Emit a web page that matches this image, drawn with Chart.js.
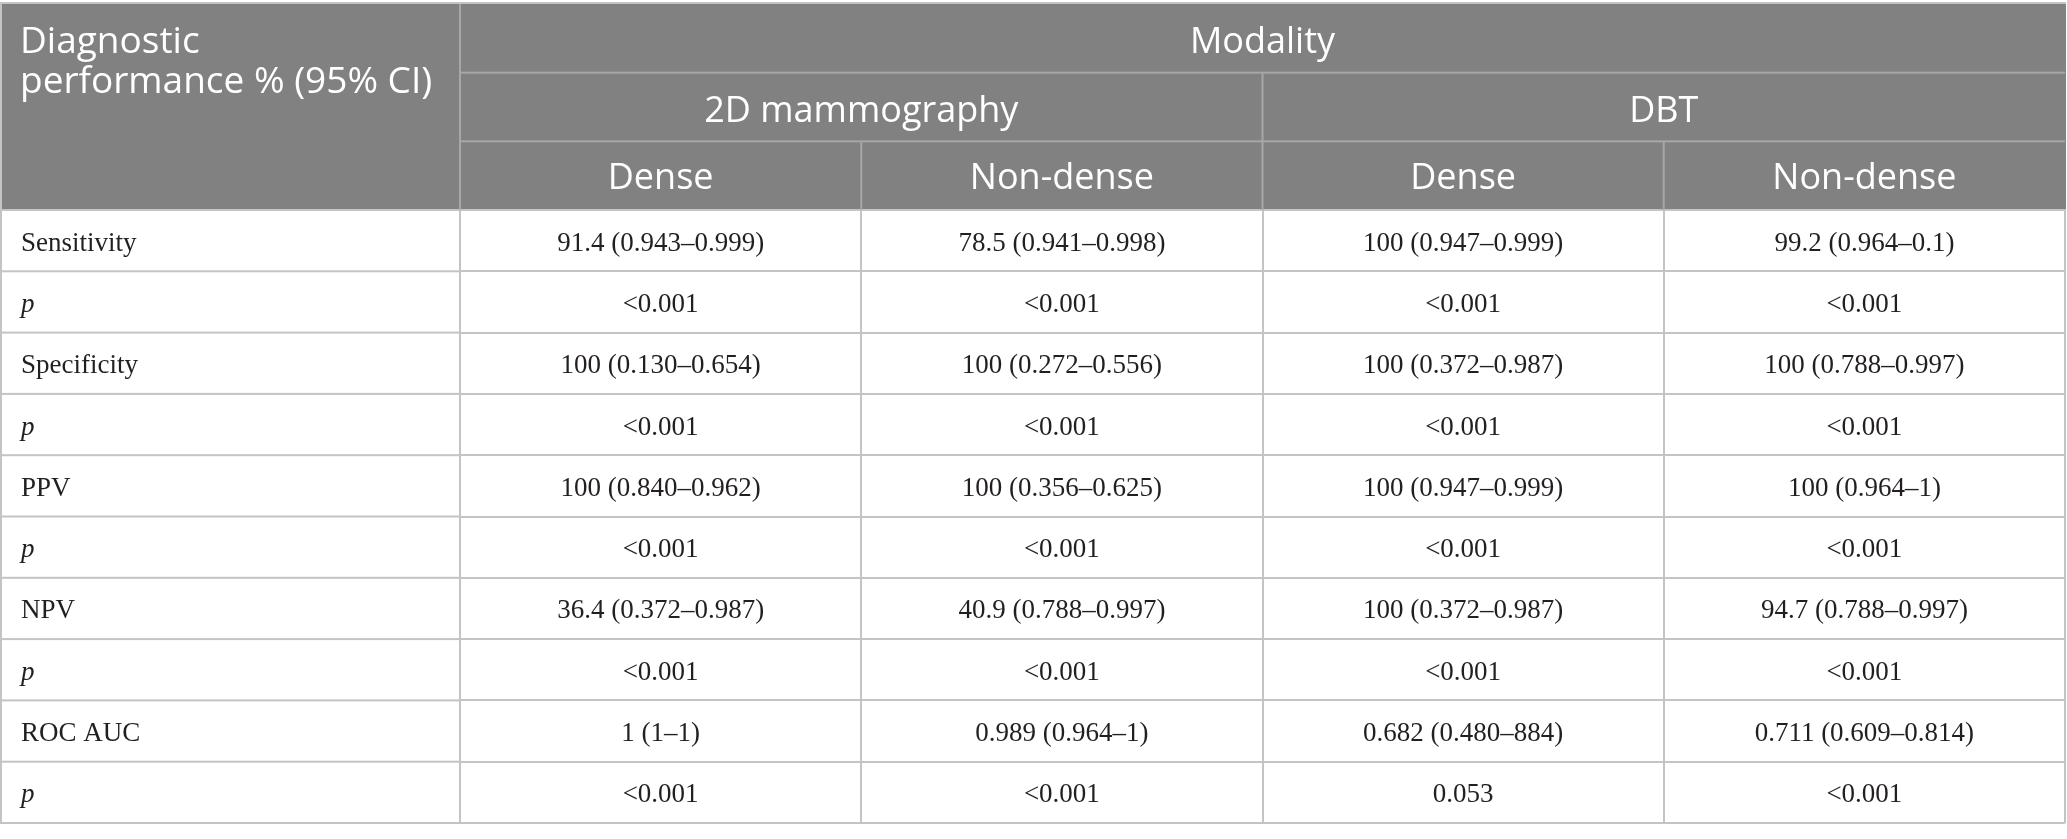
<!DOCTYPE html>
<html>
<head>
<meta charset="utf-8">
<script src="https://cdn.jsdelivr.net/npm/chart.js@4"></script>
<style>
  html, body { margin: 0; padding: 0; background: #fff; }
  #wrap { width: 2067px; height: 839px; }
</style>
</head>
<body>
<div id="wrap"><canvas id="myChart"></canvas></div>
<script>
// table content
var stubTitle = ['Diagnostic', 'performance % (95% CI)'];
var topHeader = 'Modality';
var groups = ['2D mammography', 'DBT'];
var columns = ['Dense', 'Non-dense', 'Dense', 'Non-dense'];
var rows = ['Sensitivity', 'p', 'Specificity', 'p', 'PPV', 'p', 'NPV', 'p', 'ROC AUC', 'p'];

var dense2D = ['91.4 (0.943–0.999)', '<0.001', '100 (0.130–0.654)', '<0.001', '100 (0.840–0.962)', '<0.001', '36.4 (0.372–0.987)', '<0.001', '1 (1–1)', '<0.001'];
var nonDense2D = ['78.5 (0.941–0.998)', '<0.001', '100 (0.272–0.556)', '<0.001', '100 (0.356–0.625)', '<0.001', '40.9 (0.788–0.997)', '<0.001', '0.989 (0.964–1)', '<0.001'];
var denseDBT = ['100 (0.947–0.999)', '<0.001', '100 (0.372–0.987)', '<0.001', '100 (0.947–0.999)', '<0.001', '100 (0.372–0.987)', '<0.001', '0.682 (0.480–884)', '0.053'];
var nonDenseDBT = ['99.2 (0.964–0.1)', '<0.001', '100 (0.788–0.997)', '<0.001', '100 (0.964–1)', '<0.001', '94.7 (0.788–0.997)', '<0.001', '0.711 (0.609–0.814)', '<0.001'];

var cells = [dense2D, nonDense2D, denseDBT, nonDenseDBT];

var headFill = '#808180';
var headLine = '#a6a7a6';
var gridLine = '#c4c4c4';
var bodyText = '#231f20';
var sansFont = '"Open Sans", "Noto Sans", sans-serif';
var serifFont = '"Liberation Serif", "DejaVu Serif", serif';

var tablePlugin = {
    id: 'tablePlugin',
    beforeDraw: function (chart) {
        var c = chart.ctx, x = chart.scales.x, area = chart.chartArea;
        c.save();
        c.fillStyle = headFill;
        c.fillRect(0, x.top, area.right + 1, x.bottom - x.top);
        // top rule
        c.fillStyle = gridLine;
        c.fillRect(0, x.top - 2, area.right + 1, 2);
        c.restore();
    },
    afterDraw: function (chart) {
        var c = chart.ctx, x = chart.scales.x, y = chart.scales.y, area = chart.chartArea;
        var colW = x.getPixelForValue(1) - x.getPixelForValue(0);
        var rowH = y.getPixelForValue(1) - y.getPixelForValue(0);
        var h = (x.bottom - x.top) / 3;
        c.save();

        // lines inside the header
        c.fillStyle = headLine;
        c.fillRect(area.left, x.top + h - 1, area.right - area.left, 2);
        c.fillRect(area.left, x.top + 2 * h - 1, area.right - area.left, 2);
        c.fillRect(area.left - 1, x.top, 2, x.bottom - x.top);
        for (var g = 0; g < groups.length; g++) {
            var gl = x.getPixelForValue(g * 2) - colW / 2;
            if (g > 0) c.fillRect(gl - 1, x.top + h, 2, x.bottom - x.top - h);
            var mid = x.getPixelForValue(g * 2) + colW / 2;
            c.fillRect(mid - 1, x.top + 2 * h, 2, h);
        }

        // first column rules
        c.fillStyle = gridLine;
        for (var r = 0; r <= rows.length; r++) {
            var yy = y.getPixelForValue(0) - rowH / 2 + r * rowH;
            c.fillRect(0, yy - 1, area.left, 2);
        }
        c.fillRect(0, x.top - 2, 2, area.bottom - x.top + 3);

        // header texts
        c.fillStyle = '#ffffff';
        c.textBaseline = 'alphabetic';
        c.textAlign = 'left';
        c.font = '37px ' + sansFont;
        c.fillText(stubTitle[0], 20, x.top + 49);
        c.fillText(stubTitle[1], 20, x.top + 89);
        c.font = '36px ' + sansFont;
        c.textAlign = 'center';
        c.fillText(topHeader, (area.left + area.right) / 2, x.top + h / 2 + 14.5);
        for (var k = 0; k < groups.length; k++) {
            var cx = (x.getPixelForValue(k * 2) + x.getPixelForValue(k * 2 + 1)) / 2;
            c.fillText(groups[k], cx, x.top + 1.5 * h + 14.5);
        }

        // row labels (first column)
        c.fillStyle = bodyText;
        c.textAlign = 'left';
        for (var n = 0; n < rows.length; n++) {
            c.font = (rows[n] === 'p' ? 'italic ' : '') + '27px ' + serifFont;
            c.fillText(rows[n], y.left, y.getPixelForValue(n) + 10);
        }

        // body cells
        c.textAlign = 'center';
        c.font = '27px ' + serifFont;
        for (var i = 0; i < cells.length; i++) {
            for (var j = 0; j < cells[i].length; j++) {
                c.fillText(cells[i][j], x.getPixelForValue(i), y.getPixelForValue(j) + 10);
            }
        }
        c.restore();
    }
};

var ctx = document.getElementById('myChart').getContext('2d');
var myChart = new Chart(ctx, {
    type: 'bar',
    data: {
        labels: columns,
        datasets: []
    },
    options: {
        responsive: true,
        maintainAspectRatio: false,
        animation: false,
        devicePixelRatio: 1,
        layout: {
            padding: { top: 4, left: 21, right: 2, bottom: 16 }
        },
        plugins: {
            legend: { display: false },
            tooltip: { enabled: false }
        },
        scales: {
            x: {
                type: 'category',
                labels: columns,
                position: 'top',
                offset: true,
                grid: { offset: true, color: gridLine, lineWidth: 2, drawTicks: false },
                border: { color: gridLine, width: 2 },
                ticks: {
                    color: '#ffffff',
                    font: { family: sansFont, size: 36 },
                    padding: 10,
                    maxRotation: 0,
                    autoSkip: false
                },
                afterFit: function (s) { s.height = 206; }
            },
            y: {
                type: 'category',
                labels: rows,
                offset: true,
                grid: { offset: true, color: gridLine, lineWidth: 2, drawTicks: false },
                border: { color: gridLine, width: 2 },
                ticks: { display: false },
                afterFit: function (s) { s.width = 439; }
            }
        }
    },
    plugins: [tablePlugin]
});
</script>
</body>
</html>
